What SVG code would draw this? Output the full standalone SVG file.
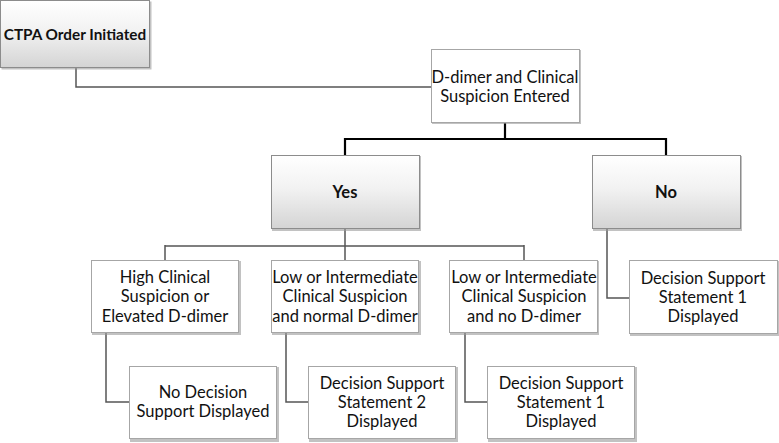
<svg xmlns="http://www.w3.org/2000/svg" width="779" height="443" viewBox="0 0 779 443">
<defs>
<linearGradient id="g" x1="0" y1="0" x2="0" y2="1">
<stop offset="0" stop-color="#ffffff"/>
<stop offset="0.45" stop-color="#f2f2f2"/>
<stop offset="1" stop-color="#d4d4d4"/>
</linearGradient>
</defs>
<style>
.sh{fill:#9a9a9a;opacity:0.6}
.bx{fill:#ffffff;stroke:#a6a6a6;stroke-width:1}
.gb{fill:url(#g);stroke:#8c8c8c;stroke-width:1}
.t{font-family:Lato,"Open Sans","Liberation Sans",sans-serif;font-size:16.5px;fill:#111;text-anchor:middle}
.b{font-weight:bold}
.c{fill:none;stroke:#555;stroke-width:1.5}
.k{fill:none;stroke:#000;stroke-width:2.2}
</style>
<rect width="779" height="443" fill="#fff"/>
<g id="connectors">
<path class="c" d="M76 68V87H431"/>
<path class="k" d="M505 123V139M345 139H666M345 138V155M666 138V155"/>
<path class="c" d="M345 229V260M165 246H524M165 245V260M524 245V260"/>
<path class="c" d="M607 229V298H629"/>
<path class="c" d="M106 333V402H129"/>
<path class="c" d="M286 333V402H308"/>
<path class="c" d="M465 333V402H487"/>
</g>
<g id="ctpa">
<rect class="sh" x="1.5" y="1.5" width="150" height="68"/>
<rect class="gb" x="0.5" y="0.5" width="149" height="67"/>
<text class="t b" x="75" y="39.5" style="font-size:15.3px">CTPA Order Initiated</text>
</g>
<g id="ddimer">
<rect class="sh" x="432" y="50" width="149" height="74"/>
<rect class="bx" x="431.5" y="49.5" width="148" height="73"/>
<text class="t" x="505" y="83">D-dimer and Clinical</text>
<text class="t" x="505" y="102">Suspicion Entered</text>
</g>
<g id="yes">
<rect class="sh" x="272" y="156" width="149" height="75"/>
<rect class="gb" x="271.5" y="155.5" width="148" height="73"/>
<text class="t b" x="345" y="198">Yes</text>
</g>
<g id="no">
<rect class="sh" x="593" y="156" width="149" height="75"/>
<rect class="gb" x="592.5" y="155.5" width="148" height="73"/>
<text class="t b" x="666" y="198">No</text>
</g>
<g id="high">
<rect class="sh" x="92" y="261" width="149" height="74"/>
<rect class="bx" x="91.5" y="260.5" width="147" height="72"/>
<text class="t" x="165" y="283">High Clinical</text>
<text class="t" x="165" y="302">Suspicion or</text>
<text class="t" x="165" y="322">Elevated D-dimer</text>
</g>
<g id="lownormal">
<rect class="sh" x="272" y="261" width="149" height="74"/>
<rect class="bx" x="271.5" y="260.5" width="147" height="72"/>
<text class="t" x="345" y="283">Low or Intermediate</text>
<text class="t" x="345" y="302">Clinical Suspicion</text>
<text class="t" x="345" y="322">and normal D-dimer</text>
</g>
<g id="lowno">
<rect class="sh" x="450" y="261" width="149" height="74"/>
<rect class="bx" x="449.5" y="260.5" width="148" height="72"/>
<text class="t" x="524" y="283">Low or Intermediate</text>
<text class="t" x="524" y="302">Clinical Suspicion</text>
<text class="t" x="524" y="322">and no D-dimer</text>
</g>
<g id="dss1right">
<rect class="sh" x="630" y="261" width="149" height="75"/>
<rect class="bx" x="629.5" y="260.5" width="148" height="73"/>
<text class="t" x="703" y="284">Decision Support</text>
<text class="t" x="703" y="303">Statement 1</text>
<text class="t" x="703" y="322">Displayed</text>
</g>
<g id="nods">
<rect class="sh" x="130" y="367" width="149" height="75"/>
<rect class="bx" x="129.5" y="366.5" width="147" height="72"/>
<text class="t" x="203" y="398">No Decision</text>
<text class="t" x="203" y="417">Support Displayed</text>
</g>
<g id="dss2">
<rect class="sh" x="309" y="367" width="149" height="75"/>
<rect class="bx" x="308.5" y="366.5" width="147" height="72"/>
<text class="t" x="382" y="389">Decision Support</text>
<text class="t" x="382" y="408">Statement 2</text>
<text class="t" x="382" y="427">Displayed</text>
</g>
<g id="dss1bottom">
<rect class="sh" x="488" y="367" width="149" height="75"/>
<rect class="bx" x="487.5" y="366.5" width="147" height="72"/>
<text class="t" x="561" y="389">Decision Support</text>
<text class="t" x="561" y="408">Statement 1</text>
<text class="t" x="561" y="427">Displayed</text>
</g>
</svg>
